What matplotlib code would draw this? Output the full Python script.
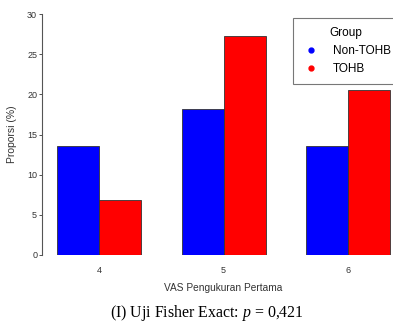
import numpy as np
import matplotlib
matplotlib.use("Agg")
import matplotlib.pyplot as plt
from matplotlib.lines import Line2D

categories = ["4", "5", "6"]
non_tohb = [13.6, 18.2, 13.6]
tohb = [6.8, 27.3, 20.5]
y_ticks = [0, 5, 10, 15, 20, 25, 30]

plt.rcParams['font.family'] = ['Liberation Sans', 'DejaVu Sans']
plt.rcParams['mathtext.fontset'] = 'custom'
plt.rcParams['mathtext.rm'] = 'Liberation Serif'
plt.rcParams['mathtext.it'] = 'Liberation Serif:italic'

fig = plt.figure(figsize=(3.93, 3.24), dpi=100)
ax = fig.add_axes([42 / 393, 69 / 324, 351 / 393, 241 / 324])

x = np.arange(len(categories))
w = 0.337
ax.bar(x - w / 2, non_tohb, width=w, color='#0000FF', edgecolor='#333333', linewidth=0.6)
ax.bar(x + w / 2, tohb, width=w, color='#FF0000', edgecolor='#333333', linewidth=0.6)

ax.set_xlim(-0.458, 2.36)
ax.set_ylim(0, 30)
ax.set_yticks(y_ticks)
ax.set_xticks(x)
ax.set_xticklabels(categories)
ax.tick_params(axis='y', labelsize=6.5, length=2.5, width=0.6, colors='#333333', pad=1)
ax.tick_params(axis='x', labelsize=6.5, length=0, pad=8, colors='#333333')
for s in ['top', 'right', 'bottom']:
    ax.spines[s].set_visible(False)
ax.spines['left'].set_color('#555555')
ax.spines['left'].set_linewidth(0.8)

ax.set_ylabel("Proporsi (%)", fontsize=7.5, color='#333333', labelpad=7)
ax.set_xlabel("VAS Pengukuran Pertama", fontsize=7.3, color='#333333')
ax.xaxis.set_label_coords((223 - 42) / 351, -(288 - 255) / 241)
ax.xaxis.label.set_va('center')

handles = [
    Line2D([], [], marker='o', linestyle='', color='#0000FF', markersize=3.5),
    Line2D([], [], marker='o', linestyle='', color='#FF0000', markersize=3.5),
]
leg = ax.legend(handles, ["Non-TOHB", "TOHB"], title="Group", fontsize=8.5,
                title_fontsize=8.5, loc='upper left',
                bbox_to_anchor=(293 / 393, 1 - 18 / 324), bbox_transform=fig.transFigure,
                borderaxespad=0, frameon=True, fancybox=False, edgecolor='#555555',
                handlelength=1.6, handletextpad=1.0, borderpad=0.75, labelspacing=0.5)
leg.get_frame().set_linewidth(0.8)

fig.text(207 / 393, 1 - 313 / 324, "(I) Uji Fisher Exact: $p$ = 0,421",
         family='Liberation Serif', fontsize=11.4, ha='center', va='center')

fig.savefig("out.png", dpi=100)
